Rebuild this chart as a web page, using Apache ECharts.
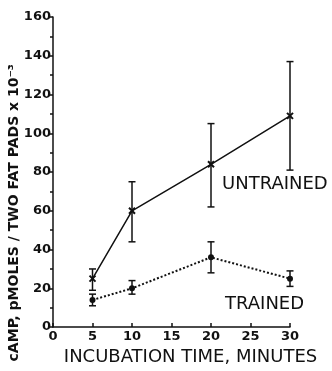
<!DOCTYPE html>
<html>
<head>
<meta charset="utf-8">
<script src="https://cdn.jsdelivr.net/npm/echarts@6/dist/echarts.min.js"></script>
<style>
html, body { margin: 0; padding: 0; background: #fff; }
#main { width: 332px; height: 371px; }
</style>
</head>
<body>
<div id="main"></div>
<script>
var times = [5, 10, 20, 30];
var untrained = [25, 60, 84, 109];
var untrainedHi = [30, 75, 105, 137];
var untrainedLo = [19, 44, 62, 81];
var trained = [14, 20, 36, 25];
var trainedHi = [17, 24, 44, 29];
var trainedLo = [11, 17, 28, 21];

var font = 'DejaVu Sans';

function pairs(xs, ys) {
    return xs.map(function (x, i) { return [x, ys[i]]; });
}
function errData(xs, lo, hi) {
    return xs.map(function (x, i) { return [x, lo[i], hi[i]]; });
}
function errBar(params, api) {
    var top = api.coord([api.value(0), api.value(2)]);
    var bot = api.coord([api.value(0), api.value(1)]);
    var w = 3.5;
    var st = { stroke: '#111', lineWidth: 1.5 };
    return {
        type: 'group',
        children: [
            { type: 'line', shape: { x1: top[0], y1: top[1], x2: bot[0], y2: bot[1] }, style: st },
            { type: 'line', shape: { x1: top[0] - w, y1: top[1], x2: top[0] + w, y2: top[1] }, style: st },
            { type: 'line', shape: { x1: bot[0] - w, y1: bot[1], x2: bot[0] + w, y2: bot[1] }, style: st }
        ]
    };
}

var chart = echarts.init(document.getElementById('main'));
var option = {
    animation: false,
    grid: { left: 53, right: 42, top: 17, bottom: 34 },
    xAxis: {
        type: 'value', min: 0, max: 30, interval: 5,
        name: 'INCUBATION TIME, MINUTES',
        nameLocation: 'middle', nameGap: 20,
        nameTextStyle: { fontFamily: font, fontSize: 18, color: '#111', padding: [0, 0, 0, 38] },
        axisLine: { lineStyle: { color: '#111', width: 1.5 } },
        axisTick: { inside: true, length: 4, lineStyle: { color: '#111', width: 1.5 } },
        axisLabel: { fontFamily: font, fontSize: 13, fontWeight: 'bold', color: '#111', margin: 3 },
        splitLine: { show: false }
    },
    yAxis: {
        type: 'value', min: 0, max: 160, interval: 20,
        axisLine: { show: true, lineStyle: { color: '#111', width: 1.5 } },
        axisTick: { length: 3, lineStyle: { color: '#111', width: 1.5 } },
        minorTick: { show: true, splitNumber: 2, length: 3, lineStyle: { color: '#111', width: 1.5 } },
        axisLabel: { fontFamily: font, fontSize: 13, fontWeight: 'bold', color: '#111', margin: 2 },
        splitLine: { show: false }
    },
    graphic: [
        {
            type: 'text', left: 7, top: 64, rotation: Math.PI / 2,
            style: { text: 'cAMP, pMOLES / TWO FAT PADS x 10\u207B\u00B3', font: 'bold 14px "DejaVu Sans"', fill: '#111' }
        },
        { type: 'text', left: 222, top: 175, style: { text: 'UNTRAINED', font: '18px "DejaVu Sans"', fill: '#111' } },
        { type: 'text', left: 225, top: 295, style: { text: 'TRAINED', font: '18px "DejaVu Sans"', fill: '#111' } }
    ],
    series: [
        {
            name: 'UNTRAINED', type: 'line', data: pairs(times, untrained),
            symbol: 'path://M0,0L10,10M10,0L0,10', symbolSize: 6,
            itemStyle: { color: '#111', borderColor: '#111', borderWidth: 2 },
            lineStyle: { color: '#111', width: 1.5 }
        },
        {
            name: 'TRAINED', type: 'line', data: pairs(times, trained),
            symbol: 'circle', symbolSize: 6,
            itemStyle: { color: '#111' },
            lineStyle: { color: '#111', width: 2, type: [2, 2] }
        },
        { type: 'custom', renderItem: errBar, data: errData(times, untrainedLo, untrainedHi), z: 3 },
        { type: 'custom', renderItem: errBar, data: errData(times, trainedLo, trainedHi), z: 3 }
    ]
};
chart.setOption(option);
</script>
</body>
</html>
